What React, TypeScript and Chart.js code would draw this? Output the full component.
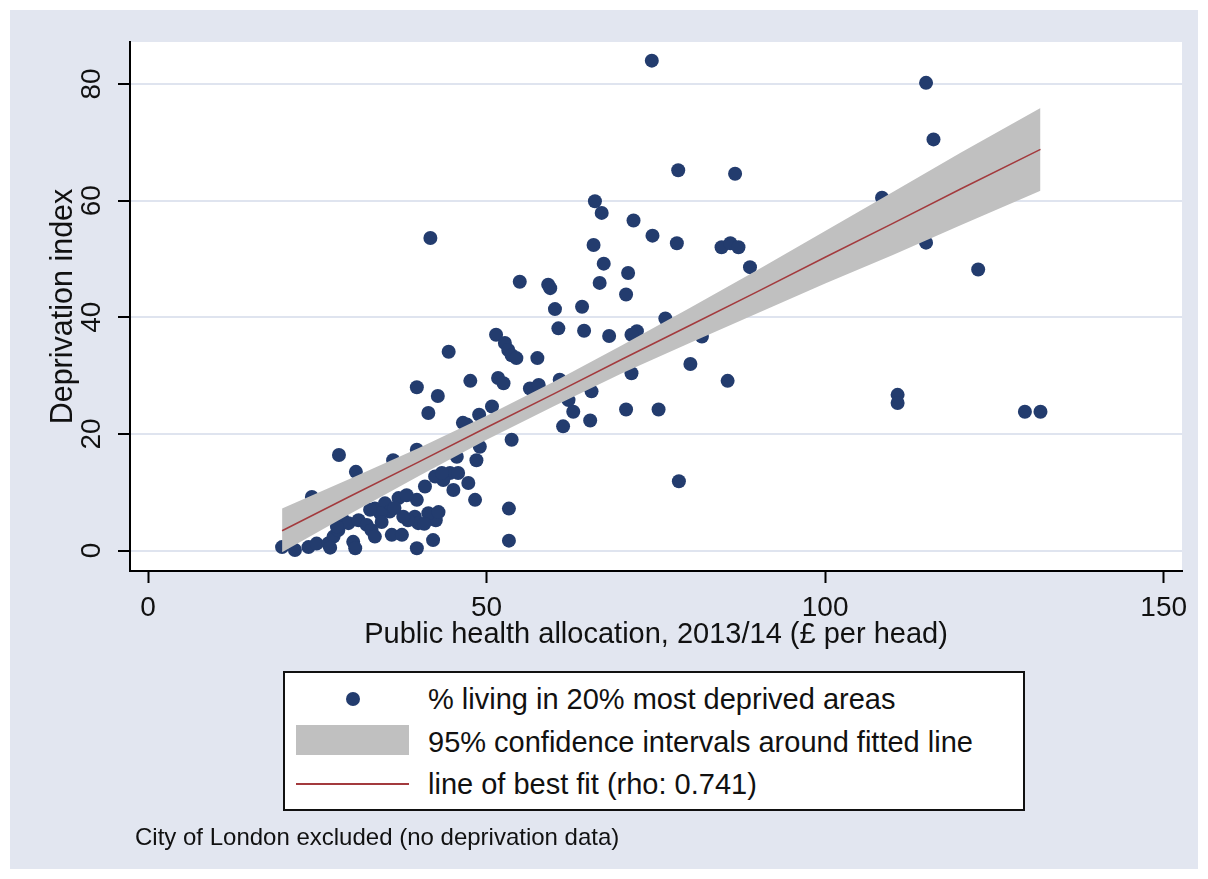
import React, { useEffect, useRef } from "react";
import { Chart, registerables } from "chart.js";

Chart.register(...registerables);

// Scatter: public health allocation (£ per head) vs % living in 20% most deprived areas
const ptsX = [
  74.4, 114.9, 116.0, 78.3, 86.7, 66.0, 67.0, 71.7, 74.5, 41.7, 65.8, 78.1, 84.7, 86.0, 87.2,
  108.4, 114.9, 122.6, 88.9, 67.3, 70.9, 66.7, 70.6, 64.1, 60.1, 76.4, 54.9, 59.1, 59.4, 60.6,
  64.4, 68.1, 72.2, 71.4, 51.4, 52.7, 53.2, 53.7, 54.4, 44.4, 57.5, 47.6, 51.7, 52.5, 56.4,
  57.7, 60.8, 65.5, 62.1, 62.8, 65.3, 61.3, 70.6, 75.4, 71.4, 50.8, 48.9, 47.1, 53.7, 49.0,
  48.5, 45.6, 44.6, 43.6, 45.1, 45.8, 47.3, 48.3, 53.3, 53.3, 42.5, 42.1, 80.1, 85.6, 78.4,
  81.8, 110.7, 110.7, 129.5, 131.8, 39.7, 42.8, 41.4, 28.2, 30.7, 40.9, 39.7, 36.2, 39.7, 46.5,
  39.7, 36.0, 37.5, 19.8, 21.7, 23.7, 24.9, 26.6, 27.4, 28.1, 28.8, 29.6, 31.1, 32.3, 33.0,
  30.3, 30.6, 33.5, 33.5, 35.0, 37.0, 38.2, 39.4, 39.9, 38.4, 41.4, 42.9, 42.4, 35.7, 34.3,
  32.8, 37.7, 24.2, 27.9, 26.9, 34.5, 36.4, 40.8, 43.4,
];
const ptsY = [
  84.0, 80.2, 70.5, 65.2, 64.6, 59.9, 57.9, 56.6, 54.0, 53.6, 52.4, 52.7, 52.0, 52.7, 52.0,
  60.5, 52.8, 48.2, 48.6, 49.2, 47.6, 45.9, 43.9, 41.8, 41.4, 39.8, 46.1, 45.6, 45.0, 38.1,
  37.7, 36.8, 37.6, 37.0, 37.0, 35.6, 34.4, 33.5, 33.0, 34.1, 33.0, 29.1, 29.6, 28.7, 27.8,
  28.4, 29.3, 27.3, 25.8, 23.8, 22.3, 21.3, 24.2, 24.2, 30.4, 24.7, 23.3, 21.6, 19.0, 17.8,
  15.5, 16.1, 13.3, 12.1, 10.4, 13.3, 11.6, 8.7, 7.2, 1.7, 5.2, 1.8, 32.0, 29.1, 11.9,
  36.7, 26.7, 25.3, 23.8, 23.8, 28.0, 26.5, 23.6, 16.4, 13.5, 11.0, 8.7, 15.5, 17.3, 21.9,
  0.4, 2.7, 2.7, 0.6, 0.1, 0.6, 1.2, 1.2, 2.4, 3.5, 5.2, 4.7, 5.2, 4.4, 3.5,
  1.5, 0.4, 2.4, 7.2, 8.1, 9.0, 9.5, 5.8, 4.7, 5.2, 6.4, 6.6, 12.7, 6.7, 6.4,
  7.0, 5.8, 9.2, 4.1, 0.5, 4.9, 7.3, 4.6, 13.3,
];

// Fitted line and 95% confidence band, read at selected x values
const fitX = [19.8, 30, 40, 50, 60, 70, 80, 90, 100, 110, 120, 131.8];
const fitY = [3.4, 9.4, 15.2, 21.1, 26.9, 32.8, 38.6, 44.4, 50.3, 56.1, 62.0, 68.8];
const bandUpper = [7.2, 12.4, 17.6, 23.1, 29.0, 35.2, 41.6, 48.1, 54.8, 61.5, 68.2, 75.9];
const bandLower = [-0.3, 6.4, 12.8, 19.0, 24.8, 30.4, 35.6, 40.7, 45.8, 50.7, 55.8, 61.7];

const xTicks = [0, 50, 100, 150];
const yTicks = [0, 20, 40, 60, 80];

const xTitle = "Public health allocation, 2013/14 (£ per head)";
const yTitle = "Deprivation index";
const legendLabels = [
  "% living in 20% most deprived areas",
  "95% confidence intervals around fitted line",
  "line of best fit (rho: 0.741)",
];
const note = "City of London excluded (no deprivation data)";

const FONT = '"Liberation Sans", Arial, Helvetica, sans-serif';
const OUTER = "#e2e6f0";
const NAVY = "#233c6e";
const BAND = "#c0c0c0";
const RED = "#a33a3d";
const GRID = "#dfe4ef";
const TEXT = "#111111";

export default function App() {
  const ref = useRef<HTMLCanvasElement | null>(null);

  useEffect(() => {
    if (!ref.current) return;
    const bgPlugin = {
      id: "bg",
      beforeDraw(chart: any) {
        const { ctx, chartArea: a } = chart;
        ctx.save();
        ctx.fillStyle = "#ffffff";
        ctx.fillRect(0, 0, chart.width, chart.height);
        ctx.fillStyle = OUTER;
        ctx.fillRect(10, 10, chart.width - 20, chart.height - 20);
        ctx.fillStyle = "#ffffff";
        ctx.fillRect(a.left, a.top, a.right - a.left, a.bottom - a.top);
        ctx.restore();
      },
    };
    const yLabelPlugin = {
      id: "yLabels",
      afterDraw(chart: any) {
        const s = chart.scales.y;
        const ctx = chart.ctx;
        ctx.save();
        ctx.font = `28px ${FONT}`;
        ctx.fillStyle = TEXT;
        ctx.textAlign = "center";
        ctx.textBaseline = "alphabetic";
        s.ticks.forEach((t: any) => {
          const py = s.getPixelForValue(t.value);
          ctx.save();
          ctx.translate(s.right - 30, py);
          ctx.rotate(-Math.PI / 2);
          ctx.fillText(String(t.value), 0, 0);
          ctx.restore();
        });
        ctx.restore();
      },
    };

    const chart = new Chart(ref.current, {
      type: "scatter",
      data: {
        datasets: [
          {
            type: "line",
            label: legendLabels[2],
            data: fitX.map((x, i) => ({ x, y: fitY[i] })),
            borderColor: RED,
            borderWidth: 1.5,
            pointRadius: 0,
            fill: false,
            order: 1,
          } as any,
          {
            type: "line",
            label: legendLabels[1],
            data: fitX.map((x, i) => ({ x, y: bandUpper[i] })),
            borderColor: "rgba(0,0,0,0)",
            borderWidth: 0,
            pointRadius: 0,
            backgroundColor: BAND,
            fill: "+1",
            order: 2,
          } as any,
          {
            type: "line",
            label: "lower",
            data: fitX.map((x, i) => ({ x, y: bandLower[i] })),
            borderColor: "rgba(0,0,0,0)",
            borderWidth: 0,
            pointRadius: 0,
            fill: false,
            order: 2,
          } as any,
          {
            type: "scatter",
            label: legendLabels[0],
            data: ptsX.map((x, i) => ({ x, y: ptsY[i] })),
            backgroundColor: NAVY,
            borderColor: NAVY,
            borderWidth: 0,
            pointRadius: 7,
            pointHoverRadius: 7,
            order: 3,
          } as any,
        ],
      },
      options: {
        animation: false,
        responsive: false,
        devicePixelRatio: 1,
        events: [],
        layout: { padding: { left: 0, top: 42, right: 26, bottom: 226.6 } },
        plugins: {
          legend: { display: false },
          tooltip: { enabled: false },
        },
        scales: {
          x: {
            type: "linear",
            position: "bottom",
            min: -2.66,
            max: 152.7,
            afterBuildTicks: (s: any) => {
              s.ticks = xTicks.map((v) => ({ value: v }));
            },
            afterFit: (s: any) => {
              s.height = 81.4;
            },
            ticks: {
              font: { family: FONT, size: 28 },
              color: TEXT,
              padding: 8,
              maxRotation: 0,
              callback: (v: any) => String(v),
            },
            grid: {
              drawOnChartArea: false,
              drawTicks: true,
              tickLength: 12,
              tickColor: "#000",
              tickWidth: 2,
            },
            border: { display: true, color: "#000", width: 2 },
            title: {
              display: true,
              text: xTitle,
              font: { family: FONT, size: 29 },
              color: TEXT,
              padding: { top: 0, bottom: 0 },
            },
          },
          y: {
            type: "linear",
            position: "left",
            min: -3.5,
            max: 87.2,
            afterBuildTicks: (s: any) => {
              s.ticks = yTicks.map((v) => ({ value: v }));
            },
            afterFit: (s: any) => {
              s.width = 130;
            },
            ticks: { display: false },
            grid: {
              drawOnChartArea: true,
              color: GRID,
              lineWidth: 2,
              drawTicks: true,
              tickLength: 12,
              tickColor: "#000",
              tickWidth: 2,
            },
            border: { display: true, color: "#000", width: 2 },
            title: {
              display: true,
              text: yTitle,
              font: { family: FONT, size: 30.5 },
              color: TEXT,
              padding: { top: 45, bottom: 0 },
            },
          },
        },
      } as any,
      plugins: [bgPlugin, yLabelPlugin],
    });
    return () => chart.destroy();
  }, []);

  const rowText = (top: number): React.CSSProperties => ({
    position: "absolute",
    left: 428,
    top: top - 17,
    height: 34,
    lineHeight: "34px",
    fontSize: 29,
    fontFamily: FONT,
    color: TEXT,
    whiteSpace: "nowrap",
  });

  return (
    <div style={{ position: "absolute", left: 0, top: 0, width: 1208, height: 879, overflow: "hidden" }}>
      <canvas ref={ref} width={1208} height={879} style={{ display: "block", width: 1208, height: 879 }} />
      <div
        style={{
          position: "absolute",
          left: 283,
          top: 671,
          width: 742,
          height: 140,
          boxSizing: "border-box",
          border: "2px solid #111",
          background: "#fff",
        }}
      />
      <div
        style={{
          position: "absolute",
          left: 353 - 7,
          top: 699 - 7,
          width: 14,
          height: 14,
          borderRadius: "50%",
          background: NAVY,
        }}
      />
      <div style={{ position: "absolute", left: 296, top: 725, width: 113, height: 30, background: BAND }} />
      <div style={{ position: "absolute", left: 296, top: 783, width: 113, height: 2, background: RED }} />
      <div style={rowText(699)}>{legendLabels[0]}</div>
      <div style={rowText(742)}>{legendLabels[1]}</div>
      <div style={rowText(784)}>{legendLabels[2]}</div>
      <div
        style={{
          position: "absolute",
          left: 135,
          top: 837 - 14,
          height: 28,
          lineHeight: "28px",
          fontSize: 24,
          fontFamily: FONT,
          color: TEXT,
          whiteSpace: "nowrap",
        }}
      >
        {note}
      </div>
    </div>
  );
}
